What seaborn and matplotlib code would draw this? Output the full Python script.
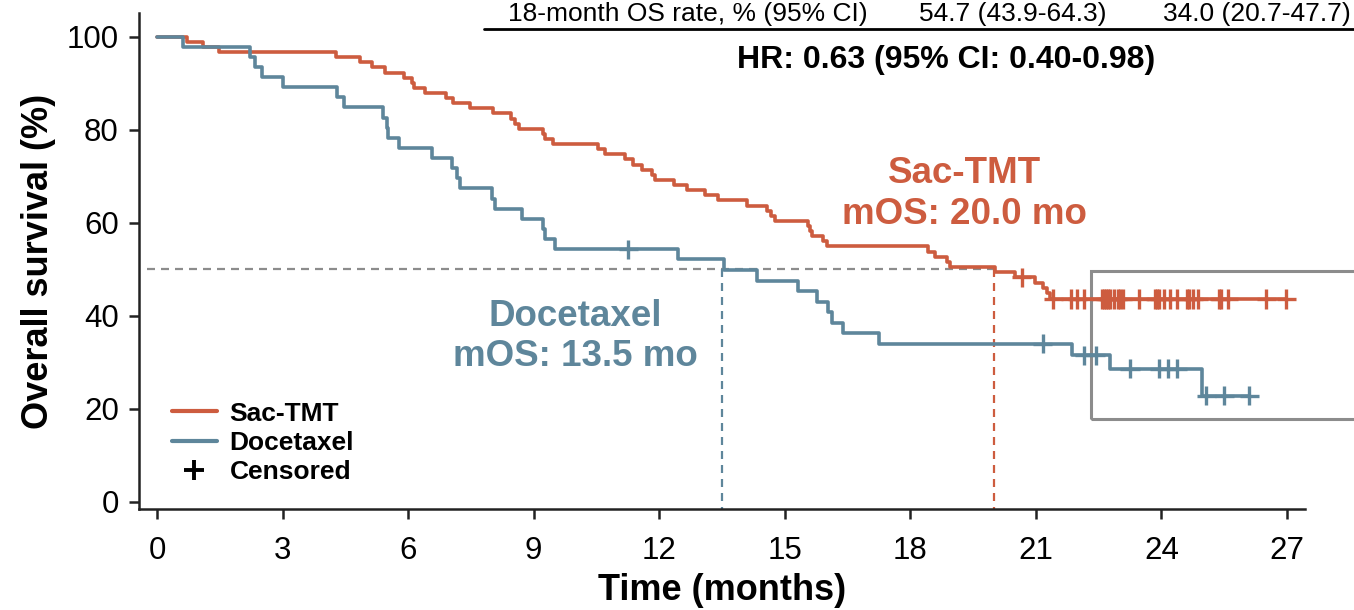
import numpy as np
import pandas as pd
import matplotlib
matplotlib.use("Agg")
import matplotlib.pyplot as plt
from matplotlib.lines import Line2D
from matplotlib.patches import Rectangle
import seaborn as sns

# ------------------------------------------------------------
# KM curve data
# ------------------------------------------------------------
sac_time = [0, 0.71, 1.11, 1.47, 4.27, 4.85, 5.13, 5.45, 5.89, 6.09, 6.13, 6.40,
            6.91, 7.08, 7.48, 8.02, 8.45, 8.55, 8.66, 9.23, 9.27, 9.47, 10.54,
            10.71, 11.18, 11.38, 11.58, 11.82, 11.90, 12.36, 12.66, 13.09, 13.41,
            14.09, 14.57, 14.66, 14.77, 15.56, 15.60, 15.64, 15.92, 16.00, 18.43,
            18.59, 18.87, 18.95, 20.02, 20.50, 20.98, 21.18, 21.26, 21.34, 26.98]
sac_surv = [100, 98.9, 97.8, 96.7, 95.6, 94.5, 93.4, 92.3, 91.2, 90.1, 89.0, 87.9,
            86.8, 85.7, 84.6, 83.5, 82.4, 81.3, 80.2, 79.1, 78.0, 76.9, 75.8,
            74.7, 73.6, 72.5, 71.4, 70.3, 69.2, 68.1, 67.0, 65.9, 64.8,
            63.7, 62.6, 61.5, 60.4, 59.3, 58.2, 57.1, 56.0, 54.9, 53.8,
            52.7, 51.6, 50.5, 49.5, 48.3, 47.1, 46.0, 44.8, 43.6, 43.6]
sac_cens = [20.66, 21.42, 21.83, 21.99, 22.15, 22.57, 22.63, 22.68, 22.73, 22.77,
            22.87, 22.95, 23.01, 23.07, 23.47, 23.85, 23.89, 23.95, 24.05, 24.21,
            24.36, 24.60, 24.67, 24.76, 24.88, 25.38, 25.42, 25.60, 26.50, 26.98]

doc_time = [0, 0.63, 2.22, 2.34, 2.50, 3.02, 4.29, 4.47, 5.41, 5.49, 5.53, 5.79,
            6.56, 7.04, 7.16, 7.24, 8.00, 8.08, 8.71, 9.23, 9.27, 9.51, 12.46,
            13.55, 14.33, 15.32, 15.76, 16.04, 16.12, 16.40, 17.24, 21.87, 22.77,
            24.96, 26.10]
doc_surv = [100, 97.8, 95.7, 93.5, 91.3, 89.1, 87.0, 84.8, 82.6, 80.4, 78.3, 76.1,
            73.9, 71.7, 69.6, 67.4, 65.2, 63.0, 60.9, 58.7, 56.5, 54.3, 52.1,
            49.8, 47.5, 45.3, 43.0, 40.8, 38.5, 36.3, 34.0, 31.5, 28.6,
            22.8, 22.8]
doc_cens = [11.26, 21.16, 22.16, 22.43, 23.25, 23.95, 24.15, 24.38, 25.07, 25.50, 26.10]

arm_names = ["Sac-TMT", "Docetaxel"]
arm_colors = {"Sac-TMT": "#CD5C3F", "Docetaxel": "#5E869B"}
median_os = {"Sac-TMT": 20.0, "Docetaxel": 13.5}

x_ticks = list(range(0, 28, 3))
y_ticks = [0, 20, 40, 60, 80, 100]

table_label = "18-month OS rate, % (95% CI)"
table_values = ["54.7 (43.9-64.3)", "34.0 (20.7-47.7)"]
hr_text = "HR: 0.63 (95% CI: 0.40-0.98)"


def surv_at(times, surv, t):
    idx = np.searchsorted(times, t, side="right") - 1
    return np.asarray(surv)[idx]


curves = {"Sac-TMT": (sac_time, sac_surv, sac_cens),
          "Docetaxel": (doc_time, doc_surv, doc_cens)}

curve_df = pd.concat([pd.DataFrame({"time": c[0], "surv": c[1], "arm": a})
                      for a, c in curves.items()], ignore_index=True)
cens_df = pd.concat([pd.DataFrame({"time": c[2], "surv": surv_at(c[0], c[1], c[2]), "arm": a})
                     for a, c in curves.items()], ignore_index=True)

# ------------------------------------------------------------
# Plot
# ------------------------------------------------------------
sns.set_style("ticks")
plt.rcParams["font.family"] = ["Liberation Sans", "DejaVu Sans"]
plt.rcParams["text.color"] = "black"
plt.rcParams["axes.labelcolor"] = "black"
plt.rcParams["xtick.labelcolor"] = "black"
plt.rcParams["ytick.labelcolor"] = "black"

W, H = 1354, 610
fig = plt.figure(figsize=(W / 100, H / 100), dpi=100)
ax = fig.add_axes([139 / W, 1 - 509 / H, (1305 - 139) / W, (509 - 13) / H])

sns.lineplot(data=curve_df, x="time", y="surv", hue="arm", palette=arm_colors,
             drawstyle="steps-post", estimator=None, sort=False, linewidth=2.6,
             legend=False, ax=ax, zorder=3)
sns.scatterplot(data=cens_df, x="time", y="surv", hue="arm", palette=arm_colors,
                marker="+", s=190, linewidth=2.4, legend=False, ax=ax, zorder=4)

# median guide lines
ax.plot([-0.25, median_os["Sac-TMT"]], [50, 50], ls=(0, (3.6, 2.7)), color="#8c8c8c", lw=1.6, zorder=2)
for arm in arm_names:
    ax.plot([median_os[arm]] * 2, [50, -1.6], ls=(0, (3.6, 2.7)), color=arm_colors[arm], lw=1.6, zorder=2)

# zoom box in the tail
ax.add_patch(Rectangle((22.32, 17.8), 10, 31.9, fill=False, ec="#8c8c8c", lw=2.2, clip_on=False, zorder=1))

ax.text(19.3, 66.2, "Sac-TMT\nmOS: 20.0 mo", color=arm_colors["Sac-TMT"], fontsize=26.5,
        fontweight="bold", ha="center", va="center", linespacing=1.2)
ax.text(10.0, 35.5, "Docetaxel\nmOS: 13.5 mo", color=arm_colors["Docetaxel"], fontsize=26.5,
        fontweight="bold", ha="center", va="center", linespacing=1.2)

ax.set_xlim(-0.43, 27.43)
ax.set_ylim(-1.57, 105.1)
ax.set_xticks(x_ticks)
ax.set_yticks(y_ticks)
ax.tick_params(axis="both", labelsize=22.5, length=7.5, width=1.8, color="#222222")
ax.tick_params(axis="x", pad=12)
ax.tick_params(axis="y", pad=7)
for s in ["left", "bottom"]:
    ax.spines[s].set_linewidth(1.8)
    ax.spines[s].set_color("#222222")
sns.despine(ax=ax)

ax.set_xlabel("Time (months)", fontsize=26, fontweight="bold", labelpad=5)
ax.set_ylabel("Overall survival (%)", fontsize=26, fontweight="bold", labelpad=8)

handles = [Line2D([], [], color=arm_colors["Sac-TMT"], lw=3),
           Line2D([], [], color=arm_colors["Docetaxel"], lw=3),
           Line2D([], [], color="black", marker="+", ls="none", ms=15, mew=2.8)]
ax.legend(handles, arm_names + ["Censored"], loc="lower left", bbox_to_anchor=(0.028, 0.05),
          frameon=False, prop={"weight": "bold", "size": 19}, handlelength=1.7,
          handletextpad=0.5, labelspacing=0.2, borderaxespad=0, borderpad=0)

# table row + HR
fig.text(508 / W, 1 - 21 / H, table_label, fontsize=19, ha="left", va="baseline")
fig.text(1013 / W, 1 - 21 / H, table_values[0], fontsize=19, ha="center", va="baseline")
fig.text(1257 / W, 1 - 21 / H, table_values[1], fontsize=19, ha="center", va="baseline")
fig.add_artist(Line2D([484 / W, 1.0], [1 - 29 / H] * 2, color="black", lw=2))
fig.text(946 / W, 1 - 68 / H, hr_text, fontsize=23, fontweight="bold", ha="center", va="baseline")

fig.savefig("out.png", dpi=100)
